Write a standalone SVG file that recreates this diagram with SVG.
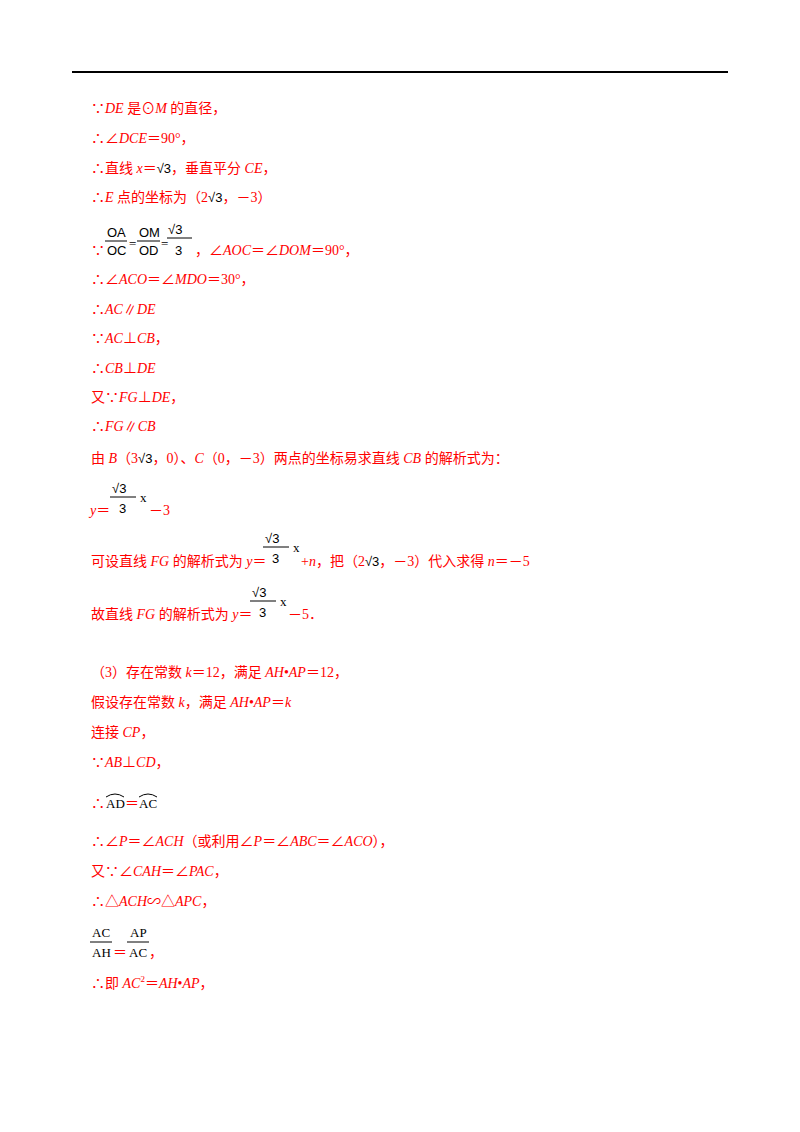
<svg xmlns="http://www.w3.org/2000/svg" width="800" height="1132" viewBox="0 0 800 1132">
<style>
text{font-family:"Liberation Serif","Noto Sans CJK SC",serif;font-size:14px;fill:#ff0000}
.i{font-style:italic}
.k{fill:#000;font-family:"Liberation Sans","Noto Sans CJK SC",sans-serif;font-size:13px}
.ks{fill:#000;font-family:"Liberation Serif",serif;font-size:13px}
line.f{stroke:#000;stroke-width:1}
</style>
<rect width="800" height="1132" fill="#fff"/>
<line x1="72" y1="72" x2="728" y2="72" stroke="#000" stroke-width="2"/>
<g id="text">
<text x="91" y="113">∵<tspan class="i">DE</tspan> 是⊙<tspan class="i">M</tspan> 的直径，</text>
<text x="91" y="143">∴∠<tspan class="i">DCE</tspan>＝90°，</text>
<text x="91" y="173">∴直线 <tspan class="i">x</tspan>＝<tspan class="k">√3</tspan>，垂直平分 <tspan class="i">CE</tspan>，</text>
<text x="91" y="202">∴<tspan class="i">E</tspan> 点的坐标为（2<tspan class="k">√3</tspan>，－3）</text>
<text class="k" x="107" y="237" font-size="12">OA</text><line class="f" x1="105" y1="241" x2="127" y2="241"/><text class="k" x="107" y="255" font-size="12">OC</text>
<text class="ks" x="129" y="248">=</text>
<text class="k" x="139" y="237" font-size="12">OM</text><line class="f" x1="137" y1="241" x2="160" y2="241"/><text class="k" x="139" y="255" font-size="12">OD</text>
<text class="ks" x="161" y="248">=</text>
<text class="k" x="168" y="234">√3</text><line class="f" x1="167" y1="238" x2="192" y2="238"/><text class="k" x="175" y="255">3</text>
<text x="91" y="255">∵</text>
<text x="195" y="255">，∠<tspan class="i">AOC</tspan>＝∠<tspan class="i">DOM</tspan>＝90°，</text>
<text x="91" y="284">∴∠<tspan class="i">ACO</tspan>＝∠<tspan class="i">MDO</tspan>＝30°，</text>
<text x="91" y="314">∴<tspan class="i">AC</tspan>∥<tspan class="i">DE</tspan></text>
<text x="91" y="343">∵<tspan class="i">AC</tspan>⊥<tspan class="i">CB</tspan>，</text>
<text x="91" y="373">∴<tspan class="i">CB</tspan>⊥<tspan class="i">DE</tspan></text>
<text x="91" y="402">又∵<tspan class="i">FG</tspan>⊥<tspan class="i">DE</tspan>，</text>
<text x="91" y="431">∴<tspan class="i">FG</tspan>∥<tspan class="i">CB</tspan></text>
<text x="91" y="463">由 <tspan class="i">B</tspan>（3<tspan class="k">√3</tspan>，0）、<tspan class="i">C</tspan>（0，－3）两点的坐标易求直线 <tspan class="i">CB</tspan> 的解析式为：</text>
<text class="k" x="112" y="493">√3</text><line class="f" x1="110" y1="497" x2="136" y2="497"/><text class="k" x="119" y="513">3</text><text class="ks" x="140" y="502">x</text>
<text x="90" y="515"><tspan class="i">y</tspan>＝</text><text x="149" y="515">－3</text>
<text class="k" x="265" y="543">√3</text><line class="f" x1="263" y1="547" x2="289" y2="547"/><text class="k" x="272" y="563">3</text><text class="ks" x="293" y="552">x</text>
<text x="91" y="566">可设直线 <tspan class="i">FG</tspan> 的解析式为 <tspan class="i">y</tspan>＝</text>
<text x="301" y="566">+<tspan class="i">n</tspan>，把（2<tspan class="k">√3</tspan>，－3）代入求得 <tspan class="i">n</tspan>＝－5</text>
<text class="k" x="252" y="597">√3</text><line class="f" x1="250" y1="601" x2="276" y2="601"/><text class="k" x="259" y="617">3</text><text class="ks" x="280" y="606">x</text>
<text x="91" y="619">故直线 <tspan class="i">FG</tspan> 的解析式为 <tspan class="i">y</tspan>＝</text><text x="288" y="619">－5．</text>
<text x="91" y="677">（3）存在常数 <tspan class="i">k</tspan>＝12，满足 <tspan class="i">AH</tspan>•<tspan class="i">AP</tspan>＝12，</text>
<text x="91" y="707">假设存在常数 <tspan class="i">k</tspan>，满足 <tspan class="i">AH</tspan>•<tspan class="i">AP</tspan>＝<tspan class="i">k</tspan></text>
<text x="91" y="737">连接 <tspan class="i">CP</tspan>，</text>
<text x="91" y="767">∵<tspan class="i">AB</tspan>⊥<tspan class="i">CD</tspan>，</text>
<text x="91" y="808">∴</text>
<text class="ks" x="106" y="808" font-size="14">AD</text><path d="M106 797 Q115 791 124 797" fill="none" stroke="#000"/>
<text x="125" y="808">＝</text>
<text class="ks" x="139" y="808" font-size="14">AC</text><path d="M139 797 Q148 791 157 797" fill="none" stroke="#000"/>
<text x="91" y="846">∴∠<tspan class="i">P</tspan>＝∠<tspan class="i">ACH</tspan>（或利用∠<tspan class="i">P</tspan>＝∠<tspan class="i">ABC</tspan>＝∠<tspan class="i">ACO</tspan>），</text>
<text x="91" y="876">又∵∠<tspan class="i">CAH</tspan>＝∠<tspan class="i">PAC</tspan>，</text>
<text x="91" y="906">∴△<tspan class="i">ACH</tspan>∽△<tspan class="i">APC</tspan>，</text>
<text class="ks" x="92" y="937" font-size="14">AC</text><line class="f" x1="90" y1="942" x2="112" y2="942"/><text class="ks" x="92" y="957" font-size="14">AH</text>
<text x="113" y="957">＝</text>
<text class="ks" x="130" y="937" font-size="14">AP</text><line class="f" x1="127" y1="942" x2="149" y2="942"/><text class="ks" x="129" y="957" font-size="14">AC</text>
<text x="149" y="957">，</text>
<text x="91" y="988">∴即 <tspan class="i">AC</tspan><tspan font-size="9" dy="-6">2</tspan><tspan dy="6">＝</tspan><tspan class="i">AH</tspan>•<tspan class="i">AP</tspan>，</text>
</g>
</svg>
